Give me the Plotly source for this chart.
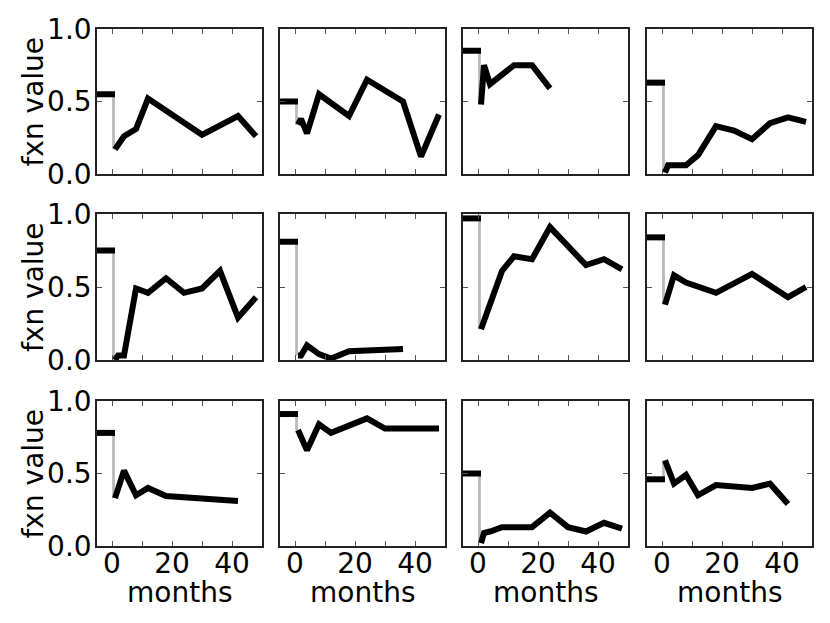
import plotly.graph_objects as go

# ---- data ----
baseline = [0.55, 0.50, 0.85, 0.63, 0.75, 0.81, 0.97, 0.84, 0.78, 0.91, 0.50, 0.46]
months = [
    [1, 4, 8, 12, 30, 42, 48],
    [1, 2, 4, 8, 18, 24, 36, 42, 48],
    [1, 2, 4, 12, 18, 24],
    [1, 2, 8, 12, 18, 24, 30, 36, 42, 48],
    [1, 2, 4, 8, 12, 18, 24, 30, 36, 42, 48],
    [1, 2, 4, 8, 12, 18, 36],
    [1, 3, 8, 12, 18, 24, 36, 42, 48],
    [1, 4, 8, 18, 30, 42, 48],
    [1, 4, 8, 12, 18, 42],
    [1, 4, 8, 12, 24, 30, 48],
    [1, 2, 4, 8, 18, 24, 30, 36, 42, 48],
    [1, 4, 8, 12, 18, 24, 30, 36, 42],
]
values = [
    [0.17, 0.26, 0.31, 0.52, 0.27, 0.40, 0.26],
    [0.34, 0.38, 0.28, 0.55, 0.40, 0.65, 0.50, 0.12, 0.41],
    [0.48, 0.75, 0.62, 0.75, 0.75, 0.59],
    [0.01, 0.06, 0.06, 0.13, 0.33, 0.30, 0.24, 0.35, 0.39, 0.36],
    [0.0, 0.03, 0.03, 0.49, 0.46, 0.56, 0.46, 0.49, 0.61, 0.29, 0.43],
    [0.03, 0.03, 0.10, 0.04, 0.01, 0.06, 0.075],
    [0.21, 0.32, 0.61, 0.71, 0.69, 0.91, 0.65, 0.69, 0.62],
    [0.38, 0.58, 0.53, 0.46, 0.59, 0.43, 0.50],
    [0.33, 0.52, 0.35, 0.40, 0.345, 0.31],
    [0.80, 0.66, 0.84, 0.78, 0.88, 0.81, 0.81],
    [0.02, 0.09, 0.10, 0.13, 0.13, 0.23, 0.13, 0.10, 0.16, 0.12],
    [0.59, 0.43, 0.49, 0.35, 0.42, 0.41, 0.40, 0.43, 0.29],
]
pre_months = [-5, 1]
step_month = 0.5
x_tickvals = [0, 10, 20, 30, 40]
x_ticktext = ["0", "", "20", "", "40"]
y_tickvals = [0, 0.5, 1.0]
y_ticktext = ["0.0", "0.5", "1.0"]
x_title = "months"
y_title = "fxn value"

# ---- layout geometry (page pixels; the page body adds an 8px offset) ----
W, H = 830, 623
OFF = 8
col_px = [(97, 262), (280, 445), (463, 628), (647, 812)]
row_px = [(29, 174), (214, 360), (401, 546)]
FONT = "DejaVu Sans"
FS = 28


def fx(px):
    return (px - OFF) / W


def fy(py):
    return 1 - (py - OFF) / H


fig = go.Figure()
layout = dict(
    width=W, height=H, margin=dict(l=0, r=0, t=0, b=0, pad=0, autoexpand=False),
    paper_bgcolor="white", plot_bgcolor="white", showlegend=False,
    font=dict(family=FONT, color="black"),
)
annotations = []
for i in range(12):
    r, c = divmod(i, 4)
    n = i + 1
    xa = "x" if n == 1 else f"x{n}"
    ya = "y" if n == 1 else f"y{n}"
    fig.add_trace(go.Scatter(x=[step_month, step_month], y=[baseline[i], values[i][0]],
                             mode="lines", line=dict(color="#b8b8b8", width=2.7),
                             xaxis=xa, yaxis=ya, hoverinfo="skip"))
    fig.add_trace(go.Scatter(x=pre_months, y=[baseline[i], baseline[i]], mode="lines",
                             line=dict(color="black", width=6), xaxis=xa, yaxis=ya))
    fig.add_trace(go.Scatter(x=months[i], y=values[i], mode="lines",
                             line=dict(color="black", width=6), xaxis=xa, yaxis=ya))
    x0, x1 = col_px[c]
    y0, y1 = row_px[r]
    common = dict(showline=True, linecolor="#222222", linewidth=1.5, mirror="ticks",
                  ticks="inside", ticklen=5, tickwidth=1, tickcolor="#555555",
                  showgrid=False, zeroline=False, fixedrange=True, automargin=False,
                  tickfont=dict(family=FONT, size=FS, color="black"))
    layout["xaxis" if n == 1 else f"xaxis{n}"] = dict(
        common, domain=[fx(x0), fx(x1)], range=[-5, 50], anchor=ya,
        tickvals=x_tickvals, ticktext=x_ticktext, showticklabels=(r == 2),
        ticklabelstandoff=-8)
    layout["yaxis" if n == 1 else f"yaxis{n}"] = dict(
        common, domain=[fy(y1), fy(y0)], range=[0, 1], anchor=xa,
        tickvals=y_tickvals, ticktext=y_ticktext, showticklabels=(c == 0),
        ticklabelstandoff=-2)
    if c == 0:
        annotations.append(dict(text=y_title, xref="paper", yref="paper",
                                x=fx(33), y=fy((y0 + y1) / 2), textangle=-90,
                                showarrow=False, xanchor="center", yanchor="middle",
                                font=dict(family=FONT, size=FS, color="black")))
    if r == 2:
        annotations.append(dict(text=x_title, xref="paper", yref="paper",
                                x=fx((x0 + x1) / 2), y=fy(592),
                                showarrow=False, xanchor="center", yanchor="middle",
                                font=dict(family=FONT, size=FS, color="black")))
layout["annotations"] = annotations
fig.update_layout(**layout)
fig.write_html("out.html")
